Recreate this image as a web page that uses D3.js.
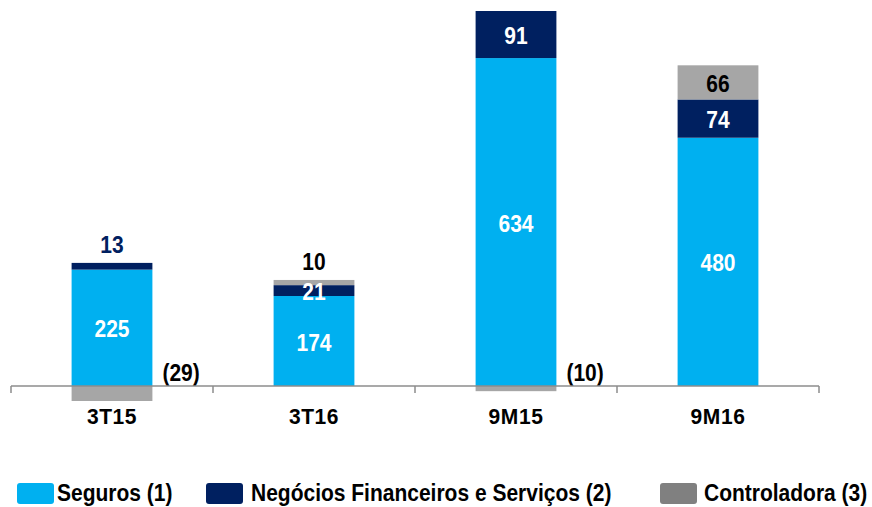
<!DOCTYPE html>
<html>
<head>
<meta charset="utf-8">
<script src="https://cdn.jsdelivr.net/npm/d3@7/dist/d3.min.js"></script>
<style>
  html, body { margin: 0; padding: 0; background: #fff; }
  svg { display: block; }
  text { font-family: "Liberation Sans", Arial, sans-serif; font-weight: bold; }
</style>
</head>
<body>
<svg id="chart" width="872" height="507"></svg>
<script>
const categories = ["3T15", "3T16", "9M15", "9M16"];
const seguros = [225, 174, 634, 480];
const negocios = [13, 21, 91, 74];
const controladora = [-29, 10, -10, 66];
const seriesNames = ["Seguros (1)", "Negócios Financeiros e Serviços (2)", "Controladora (3)"];

const colors = { seg: "#00B0F0", neg: "#002060", con: "#A6A6A6", conLegend: "#808080" };

const svg = d3.select("#chart");
const baseY = 386;

const x = d3.scaleBand().domain(categories).range([11, 819]).paddingInner(0.6).paddingOuter(0.3);
const y = d3.scaleLinear().domain([0, 725]).range([baseY, 11]);

const VS = 1.15; // vertical stretch of text
function label(g, txt, cx, cy, fill, anchor) {
  g.append("text")
    .attr("transform", `translate(${cx},${cy}) scale(1,${VS})`)
    .attr("y", 7.5)
    .attr("text-anchor", anchor || "middle")
    .attr("font-size", 21)
    .attr("fill", fill)
    .text(txt);
}

const rows = categories.map((c, i) => ({ cat: c, seg: seguros[i], neg: negocios[i], con: controladora[i] }));

const bars = svg.append("g");
const labels = svg.append("g");

rows.forEach(r => {
  const x0 = x(r.cat), w = x.bandwidth();
  let top = 0;
  const segs = [
    { key: "seg", v: r.seg, color: colors.seg, inText: "#fff", outText: colors.neg },
    { key: "neg", v: r.neg, color: colors.neg, inText: "#fff", outText: colors.neg },
    { key: "con", v: r.con, color: colors.con, inText: "#000", outText: "#000" }
  ];
  segs.forEach(s => {
    if (s.v >= 0) {
      const y0 = y(top), y1 = y(top + s.v);
      bars.append("rect").attr("x", x0).attr("width", w)
        .attr("y", y1).attr("height", y0 - y1).attr("fill", s.color);
      if (y0 - y1 >= 8) {
        label(labels, s.v, x0 + w / 2, (y0 + y1) / 2 + 1, s.inText);
      } else {
        s.outside = true;
      }
      top += s.v;
    } else {
      const y0 = y(0), y1 = y(s.v);
      bars.append("rect").attr("x", x0).attr("width", w)
        .attr("y", y0).attr("height", y1 - y0).attr("fill", s.color);
      label(labels, `(${-s.v})`, x0 + w + 10, y0 - 14, "#000", "start");
    }
  });
  const stackTop = y(top);
  segs.filter(s => s.outside).forEach(s => {
    label(labels, s.v, x0 + w / 2, stackTop - 19, s.outText);
  });
});

// axis
const axis = svg.append("g").attr("stroke", "#8C8C8C").attr("stroke-width", 1.5);
const [r0, r1] = x.range();
axis.append("line").attr("x1", r0).attr("x2", r1).attr("y1", baseY).attr("y2", baseY);
d3.range(categories.length + 1).forEach(i => {
  const tx = r0 + i * x.step();
  axis.append("line").attr("x1", tx).attr("x2", tx).attr("y1", baseY).attr("y2", baseY + 7);
});
categories.forEach(c => {
  svg.append("text")
    .attr("transform", `translate(${x(c) + x.bandwidth() / 2},416) scale(1,1.08)`)
    .attr("y", 7.2)
    .attr("text-anchor", "middle")
    .attr("font-size", 21)
    .attr("letter-spacing", 0.6)
    .attr("fill", "#000")
    .text(c);
});

// legend
const legendItems = [
  { name: seriesNames[0], color: colors.seg, sx: 17, tx: 57 },
  { name: seriesNames[1], color: colors.neg, sx: 206, tx: 251 },
  { name: seriesNames[2], color: colors.conLegend, sx: 660, tx: 704 }
];
const lg = svg.append("g");
legendItems.forEach(d => {
  lg.append("rect").attr("x", d.sx).attr("y", 483).attr("width", 37).attr("height", 21)
    .attr("rx", 3).attr("fill", d.color);
  lg.append("text")
    .attr("transform", `translate(${d.tx},493) scale(1,1.1)`)
    .attr("y", 7.5)
    .attr("font-size", 21)
    .attr("fill", "#000")
    .text(d.name);
});
</script>
</body>
</html>
